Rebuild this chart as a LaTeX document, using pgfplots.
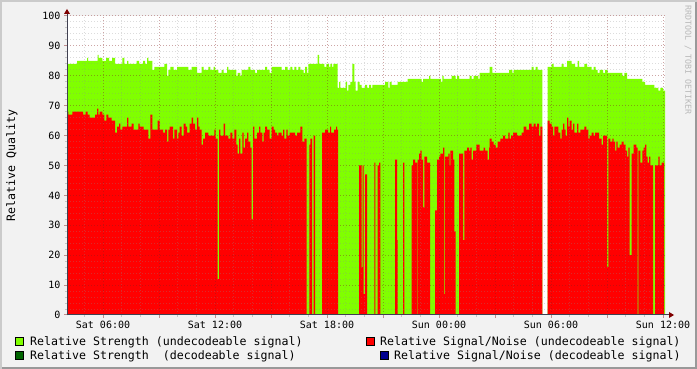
\documentclass[border=0pt]{standalone}
\usepackage{fontspec}
\setmainfont{DejaVu Sans Mono}
\usepackage{pgfplots}
\pgfplotsset{compat=1.18}
\definecolor{backc}{HTML}{F2F2F2}
\definecolor{strength}{HTML}{80FF00}
\definecolor{snr}{HTML}{FF0000}
\definecolor{strengthdec}{HTML}{006400}
\definecolor{snrdec}{HTML}{000090}
\definecolor{mgridc}{HTML}{821E1E}
\definecolor{gridc}{HTML}{8C8C8C}
\definecolor{axisc}{HTML}{404050}
\definecolor{arrowc}{HTML}{7F0000}
\definecolor{shadea}{HTML}{CBCBCB}
\definecolor{shadeb}{HTML}{999999}
\begin{document}
\begin{tikzpicture}
\fill[backc] (0,0) rectangle (697bp,369bp);
\begin{axis}[
  at={(67bp,54bp)}, anchor=south west,
  scale only axis, width=598bp, height=299bp,
  xmin=4.071, xmax=36.107, ymin=0, ymax=100,
  axis background/.style={fill=white},
  axis on top,
  axis line style={draw=none},
  tick pos=left,
  tick align=outside,
  major tick length=3bp, minor tick length=2bp,
  major tick style={draw=mgridc!50, line width=1bp},
  minor tick style={draw=gridc!50, line width=1bp},
  xtick={6,9,...,36},
  xticklabels={Sat 06:00,,Sat 12:00,,Sat 18:00,,Sun 00:00,,Sun 06:00,,Sun 12:00},
  minor xtick={5,7,8,10,11,13,14,16,17,19,20,22,23,25,26,28,29,31,32,34,35},
  ytick={0,10,...,100}, minor y tick num=4,
  grid=both,
  major grid style={draw=mgridc, opacity=0.4, dash pattern=on 1bp off 2bp, line width=1bp},
  minor grid style={draw=gridc, opacity=0.3, dash pattern=on 1bp off 2bp, line width=1bp},
  /pgf/number format/assume math mode=true,
  tick label style={font=\fontsize{10bp}{12bp}\selectfont, text=black},
  ylabel={Relative Quality},
  every axis y label/.style={at={(axis description cs:-0.092,0.5)}, rotate=90, anchor=center, font=\fontsize{11.6bp}{14bp}\selectfont},
]
% Relative Strength (undecodeable signal)
\addplot[const plot, fill=strength, draw=none] coordinates {
(4.071,84)(4.607,85)(5.143,86)(5.196,85)(5.716,87)(5.770,86)(5.962,85)(6.161,86)(6.321,85)(6.482,86)(6.643,84)(7.034,86)(7.141,84)(7.286,85)(7.355,84)(7.805,85)(7.929,84)(8.143,85)(8.250,84)(8.357,86)(8.427,85)(8.641,82)(8.748,83)(9.284,84)(9.429,80)(9.498,82)(9.605,83)(9.787,82)(9.964,83)(10.570,82)(10.752,83)(11.036,81)(11.287,83)(11.395,82)(11.641,83)(11.748,82)(11.930,83)(12.000,82)(12.177,81)(12.359,82)(12.466,81)(12.643,83)(12.712,82)(13.141,80)(13.216,81)(13.355,80)(13.430,82)(13.784,83)(13.891,82)(14.143,81)(14.250,82)(14.679,83)(14.786,82)(14.930,81)(15.037,83)(15.573,82)(15.750,83)(15.895,82)(16.034,83)(16.141,82)(16.248,83)(16.355,82)(16.462,83)(16.570,82)(16.752,81)(16.821,83)(16.929,81)(16.998,84)(17.502,87)(17.571,84)(17.855,83)(17.962,84)(18.107,83)(18.177,84)(18.268,83)(18.338,84)(18.573,76)(18.643,78)(18.712,76)(19.002,78)(19.071,75)(19.141,77)(19.248,78)(19.355,84)(19.462,78)(19.538,75)(19.645,78)(19.752,77)(19.859,76)(20.036,77)(20.143,76)(20.250,77)(20.357,76)(20.427,77)(21.107,78)(21.284,76)(21.359,78)(21.466,77)(21.787,78)(22.323,79)(23.073,78)(23.143,79)(23.464,80)(23.534,79)(24.107,78)(24.177,80)(24.252,79)(24.680,80)(24.895,79)(24.964,80)(25.071,79)(25.645,80)(25.752,79)(25.859,80)(26.105,79)(26.180,81)(26.716,83)(26.855,81)(27.750,82)(27.927,81)(28.002,82)(28.966,83)(29.073,82)(29.180,83)(29.287,82)(29.534,82)
} \closedcycle;
\addplot[const plot, fill=strength, draw=none] coordinates {
(29.823,83)(30.037,84)(30.145,83)(30.573,84)(30.680,83)(30.857,85)(31.109,84)(31.286,83)(31.430,85)(31.500,83)(31.784,84)(31.929,83)(32.180,82)(32.288,83)(32.395,82)(32.502,81)(32.609,82)(32.786,81)(32.893,82)(33.038,81)(33.820,80)(33.927,81)(34.071,79)(34.892,78)(35.036,77)(35.534,76)(35.748,75)(35.855,76)(36.000,75)(36.107,75)
} \closedcycle;
% Relative Signal/Noise (undecodeable signal)
\addplot[const plot, fill=snr, draw=none] coordinates {
(4.071,68)(4.141,67)(4.355,68)(4.929,67)(5.073,68)(5.180,67)(5.287,66)(5.571,67)(5.679,69)(5.748,67)(5.823,68)(5.962,67)(6.070,65)(6.177,67)(6.284,66)(6.466,65)(6.643,61)(6.750,63)(6.857,64)(6.927,62)(7.034,63)(7.286,66)(7.355,63)(7.537,64)(7.645,62)(7.891,64)(7.966,63)(8.180,62)(8.427,59)(8.534,67)(8.641,62)(8.930,65)(9.037,62)(9.214,61)(9.321,62)(9.429,58)(9.498,62)(9.573,63)(9.750,59)(9.820,62)(9.964,59)(10.034,61)(10.109,63)(10.216,60)(10.323,64)(10.430,63)(10.500,61)(10.645,64)(10.752,66)(10.821,64)(10.929,62)(11.036,66)(11.105,63)(11.180,62)(11.287,57)(11.357,59)(11.464,61)(11.641,60)(11.962,62)(12.037,59)(12.145,12)(12.214,62)(12.284,60)(12.466,64)(12.536,60)(12.712,59)(12.820,61)(12.927,59)(13.034,62)(13.141,57)(13.216,54)(13.286,59)(13.355,54)(13.462,61)(13.538,56)(13.607,59)(13.714,61)(13.784,58)(13.891,56)(13.966,32)(14.036,63)(14.105,59)(14.250,61)(14.357,63)(14.427,61)(14.534,58)(14.609,61)(14.679,63)(14.786,62)(14.930,59)(15.037,63)(15.145,62)(15.214,61)(15.321,60)(15.391,61)(15.573,60)(15.643,62)(15.712,59)(15.820,62)(15.895,60)(16.002,61)(16.286,60)(16.393,61)(16.570,63)(16.677,58)(16.784,59)(16.912,0)(17.052,57)(17.105,59)(17.196,0)(17.288,60)(17.357,0)(17.732,61)(17.893,62)(18.054,61)(18.161,63)(18.214,61)(18.375,62)(18.482,63)(18.536,62)(18.589,0)(19.714,50)(19.859,16)(19.902,50)(19.966,7)(20.036,47)(20.143,0)(20.534,51)(20.587,0)(20.716,50)(20.786,51)(20.855,0)(21.643,52)(21.750,25)(21.787,0)(22.071,51)(22.141,0)(22.537,50)(22.607,52)(22.714,51)(22.821,0)(22.859,52)(22.929,54)(22.998,55)(23.073,52)(23.143,36)(23.212,53)(23.357,51)(23.518,0)(23.786,35)(23.893,52)(24.000,53)(24.070,54)(24.214,56)(24.284,7)(24.321,53)(24.498,54)(24.573,50)(24.605,55)(24.750,52)(24.820,28)(24.895,0)(25.071,54)(25.286,25)(25.355,55)(25.500,56)(25.607,55)(25.677,56)(25.752,52)(25.821,55)(25.998,57)(26.180,55)(26.395,56)(26.464,55)(26.609,52)(26.679,56)(26.716,59)(26.823,58)(26.930,57)(27.037,56)(27.145,58)(27.284,59)(27.429,60)(27.536,59)(27.712,61)(27.787,59)(27.857,60)(27.964,61)(28.179,60)(28.430,61)(28.537,63)(28.677,62)(28.821,64)(28.966,63)(29.073,64)(29.180,63)(29.250,64)(29.357,60)(29.427,63)(29.534,63)
} \closedcycle;
\addplot[const plot, fill=snr, draw=none] coordinates {
(29.823,65)(29.930,64)(30.037,63)(30.107,60)(30.177,63)(30.391,61)(30.498,59)(30.573,62)(30.643,64)(30.712,62)(30.787,60)(30.857,66)(30.927,63)(31.002,65)(31.109,62)(31.179,64)(31.248,61)(31.393,64)(31.462,61)(31.570,62)(31.784,63)(31.891,62)(31.998,59)(32.073,60)(32.180,61)(32.288,60)(32.357,61)(32.571,59)(32.716,57)(32.786,60)(33.000,16)(33.069,59)(33.177,58)(33.284,59)(33.359,58)(33.429,55)(33.498,58)(33.573,56)(33.680,57)(33.788,58)(33.895,57)(34.002,55)(34.071,53)(34.141,56)(34.216,20)(34.323,54)(34.430,57)(34.570,56)(34.645,0)(34.677,55)(34.784,51)(34.892,55)(34.966,56)(35.036,57)(35.105,53)(35.180,51)(35.250,53)(35.320,50)(35.464,0)(35.571,50)(35.748,53)(35.823,50)(35.930,51)(36.054,51)
} \closedcycle;
\end{axis}
% axis lines with arrows
\draw[axisc, line width=1bp] (66.5bp,54bp) -- (670bp,54bp);
\fill[arrowc] (669bp,51bp) -- (674bp,54bp) -- (669bp,57bp) -- cycle;
\draw[axisc, line width=1bp] (67bp,53.5bp) -- (67bp,356bp);
\fill[arrowc] (64bp,355bp) -- (67bp,360bp) -- (70bp,355bp) -- cycle;
% watermark
\node[rotate=-90, anchor=center, inner sep=0, text=gray!55, font=\fontsize{8.3bp}{10bp}\selectfont] at (688bp,309bp) {RRDTOOL / TOBI OETIKER};
% legend
\begin{scope}[font=\fontsize{11.6bp}{14bp}\selectfont]
\filldraw[fill=strength, draw=black, line width=0.8bp] (15bp,24bp) rectangle (23bp,32bp);
\node[anchor=base west, inner sep=0] at (30bp,24bp) {Relative Strength (undecodeable signal)};
\filldraw[fill=strengthdec, draw=black, line width=0.8bp] (15bp,10bp) rectangle (23bp,18bp);
\node[anchor=base west, inner sep=0] at (30bp,10bp) {Relative Strength\ \ (decodeable signal)};
\filldraw[fill=snr, draw=black, line width=0.8bp] (366bp,24bp) rectangle (374bp,32bp);
\node[anchor=base west, inner sep=0] at (380bp,24bp) {Relative Signal/Noise (undecodeable signal)};
\filldraw[fill=snrdec, draw=black, line width=0.8bp] (380bp,10bp) rectangle (388bp,18bp);
\node[anchor=base west, inner sep=0] at (394bp,10bp) {Relative Signal/Noise (decodeable signal)};
\end{scope}
% border
\draw[shadea, line width=2bp] (1bp,0) -- (1bp,368bp) -- (697bp,368bp);
\draw[shadeb, line width=2bp] (2bp,1bp) -- (696bp,1bp) -- (696bp,367bp);
\pgfresetboundingbox
\path[use as bounding box] (0,0) rectangle (697bp,369bp);
\end{tikzpicture}
\end{document}
